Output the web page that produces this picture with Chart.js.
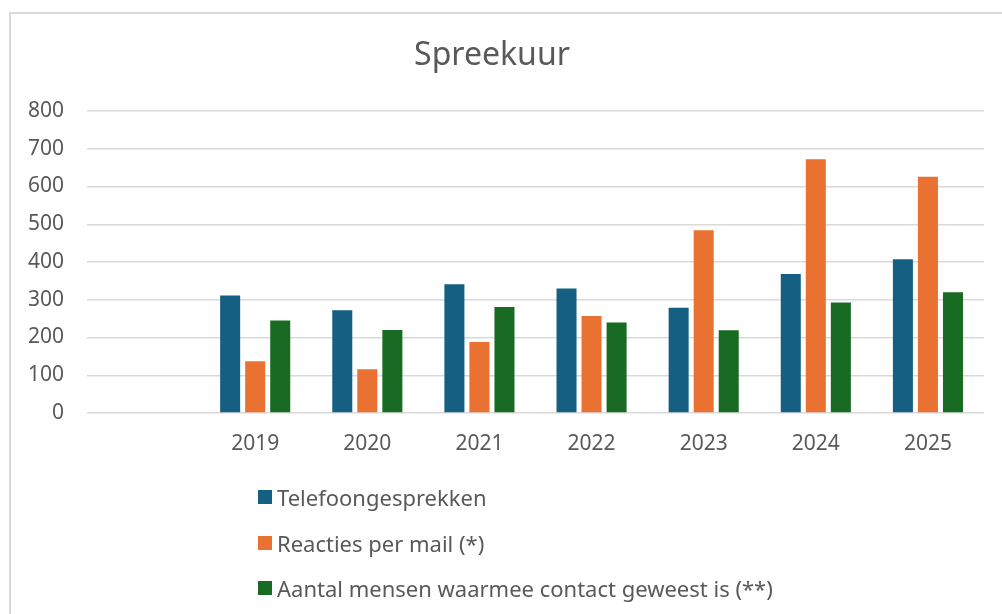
<!DOCTYPE html>
<html>
<head>
<meta charset="utf-8">
<script src="https://cdn.jsdelivr.net/npm/chart.js@4"></script>
<style>
  html, body { margin: 0; padding: 0; background: #ffffff; overflow: hidden; }
  #frame { position: absolute; left: 9px; top: 12px; width: 1100px; height: 700px; border: 2px solid #d9d9d9; box-sizing: border-box; }
  #wrap { position: absolute; left: 0; top: 0; width: 1002px; height: 614px; }
  #legend { position: absolute; left: 258px; top: 482px; font-family: "Noto Sans", sans-serif; font-size: 22px; color: #595959; }
  #legend .item { display: flex; align-items: center; height: 30px; margin-bottom: 15.5px; white-space: nowrap; }
  #legend .box { width: 14px; height: 14px; margin-right: 5px; flex: none; }
</style>
</head>
<body>
<div id="frame"></div>
<div id="wrap"><canvas id="c" width="1002" height="614"></canvas></div>
<div id="legend"></div>
<script>
const categories = ["", "2019", "2020", "2021", "2022", "2023", "2024", "2025"];
const seriesNames = ["Telefoongesprekken", "Reacties per mail (*)", "Aantal mensen waarmee contact geweest is (**)"];
const telefoon = [null, 311, 272, 341, 330, 279, 368, 407];
const mail = [null, 137, 116, 188, 257, 484, 672, 626];
const contact = [null, 245, 220, 281, 240, 219, 293, 320];
const yTicks = [0, 100, 200, 300, 400, 500, 600, 700, 800];
const colors = ["#156082", "#E97132", "#196B24"];

const FONT = "'Noto Sans', sans-serif";
const TEXT = "#595959";

const htmlLegend = {
  id: "htmlLegend",
  afterUpdate(chart) {
    const el = document.getElementById("legend");
    el.innerHTML = "";
    chart.data.datasets.forEach((ds) => {
      const item = document.createElement("div");
      item.className = "item";
      const box = document.createElement("span");
      box.className = "box";
      box.style.background = ds.backgroundColor;
      const txt = document.createElement("span");
      txt.textContent = ds.label;
      item.appendChild(box);
      item.appendChild(txt);
      el.appendChild(item);
    });
  }
};

new Chart(document.getElementById("c"), {
  type: "bar",
  data: {
    labels: categories,
    datasets: [
      { label: seriesNames[0], data: telefoon, backgroundColor: colors[0] },
      { label: seriesNames[1], data: mail, backgroundColor: colors[1] },
      { label: seriesNames[2], data: contact, backgroundColor: colors[2] }
    ]
  },
  options: {
    responsive: false,
    animation: false,
    devicePixelRatio: 1,
    layout: { padding: { left: 0, right: 18, top: 0, bottom: 140 } },
    datasets: { bar: { categoryPercentage: 0.67, barPercentage: 0.8 } },
    plugins: {
      legend: { display: false },
      tooltip: { enabled: false },
      title: {
        display: true,
        text: "Spreekuur",
        color: TEXT,
        font: { family: FONT, size: 32, weight: "normal" },
        padding: { top: 37, bottom: 35.6 }
      }
    },
    scales: {
      x: {
        grid: { display: false, drawTicks: false },
        border: { display: false },
        ticks: { color: TEXT, font: { family: FONT, size: 21 }, padding: 18, maxRotation: 0 },
        afterFit(scale) { scale.height = 61; }
      },
      y: {
        min: 0,
        max: 800,
        afterBuildTicks(scale) { scale.ticks = yTicks.map(v => ({ value: v })); },
        grid: { color: "#d9d9d9", lineWidth: 1.5, drawTicks: false },
        border: { display: false },
        ticks: { color: TEXT, font: { family: FONT, size: 21 }, padding: 23 },
        afterFit(scale) { scale.width = 87; }
      }
    }
  },
  plugins: [htmlLegend]
});
</script>
</body>
</html>
